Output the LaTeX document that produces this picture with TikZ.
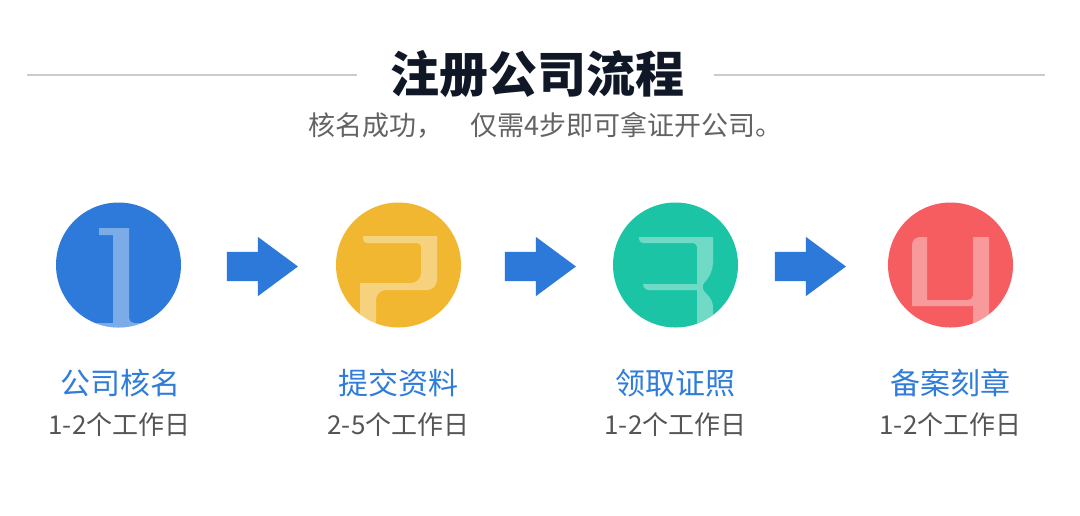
\documentclass[tikz,border=0pt]{standalone}
\usepackage{fontspec}
\setmainfont{Noto Sans CJK SC}
\usetikzlibrary{shapes.arrows}
\definecolor{stepblue}{HTML}{2D7ADA}
\definecolor{stepyellow}{HTML}{F2B731}
\definecolor{stepgreen}{HTML}{1BC4A5}
\definecolor{stepred}{HTML}{F55D60}
\definecolor{arrowblue}{HTML}{2D79D9}
\definecolor{nameblue}{HTML}{2F7CDB}
\definecolor{daysgray}{HTML}{555555}
\definecolor{subgray}{HTML}{636363}
\definecolor{titlenavy}{HTML}{101828}
\definecolor{rulegray}{HTML}{CCCCCC}

\begin{document}
\begin{tikzpicture}[x=1pt,y=-1pt]
    \tikzstyle{stepcircle}=[circle, minimum size=125pt, inner sep=0pt]
    \tikzstyle{digitfill}=[fill=white, fill opacity=0.38]
    \tikzstyle{steparrow}=[single arrow, fill=arrowblue, minimum height=71pt, inner xsep=0pt, inner ysep=14.5pt,
                           single arrow head extend=15pt, single arrow tip angle=73]
    \tikzstyle{stepname}=[font=\fontsize{30}{31}\selectfont, text=nameblue, inner sep=0pt]
    \tikzstyle{stepdays}=[font=\fontsize{26}{27}\selectfont, text=daysgray, inner sep=0pt]
    \tikzstyle{titlerule}=[draw=rulegray, line width=1.5pt]

    \fill[white] (0,0) rectangle (1080,515);
    \useasboundingbox (0,0) rectangle (1080,515);

    \node[font=\fontsize{49}{51}\selectfont\bfseries, text=titlenavy, inner sep=0pt] (title) at (537.5,74) {注册公司流程};
    \node[font=\fontsize{27}{28}\selectfont, text=subgray, inner sep=0pt] (subtitle) at (545.5,125) {核名成功，　仅需4步即可拿证开公司。};
    \coordinate (ruleLa) at (27,75);
    \coordinate (ruleLb) at (357,75);
    \coordinate (ruleRa) at (714,75);
    \coordinate (ruleRb) at (1045,75);
    \draw[titlerule] (ruleLa) -- (ruleLb);
    \draw[titlerule] (ruleRa) -- (ruleRb);

    \node[stepcircle, fill=stepblue] (c1) at (118.5,265) {};
    \node[stepcircle, fill=stepyellow] (c2) at (398.5,265) {};
    \node[stepcircle, fill=stepgreen] (c3) at (675.5,265) {};
    \node[stepcircle, fill=stepred] (c4) at (950.5,265) {};

    \begin{scope}[shift={(c1.center)}]
        \clip (0,0) circle[radius=62.5pt];
        \fill[digitfill] (-19.5,-37) -- (10.5,-37) [rounded corners=5pt] -- (10.5,58) [sharp corners] -- (30,58)
            -- (30,72) -- (-30,72) -- (-30,58) -- (-5.5,58) -- (-5.5,-30) -- (-19.5,-30) -- cycle;
    \end{scope}
    \begin{scope}[shift={(c2.center)}]
        \clip (0,0) circle[radius=62.5pt];
        \fill[digitfill] (-35.5,-29) -- (38.5,-29) [rounded corners=10pt] -- (38.5,25) -- (-22.5,25)
            [rounded corners=4pt] -- (-22.5,75) [sharp corners] -- (-38.5,75) -- (-38.5,18)
            [rounded corners=10pt] -- (22.5,18) [rounded corners=4pt] -- (22.5,-22) -- (-35.5,-22)
            [sharp corners] -- cycle;
    \end{scope}
    \begin{scope}[shift={(c3.center)}]
        \clip (0,0) circle[radius=62.5pt];
        \fill[digitfill] (-36.5,-28) -- (37.5,-28) [rounded corners=10pt] -- (37.5,8) [rounded corners=6pt]
            -- (25,22) -- (37.5,36) -- (37.5,75) [sharp corners] -- (21.5,75) -- (21.5,25)
            [rounded corners=6pt] -- (-32.5,25) [sharp corners] -- (-32.5,19) -- (21.5,19)
            [rounded corners=4pt] -- (21.5,-22) -- (-36.5,-22) [sharp corners] -- cycle;
    \end{scope}
    \begin{scope}[shift={(c4.center)}]
        \clip (0,0) circle[radius=62.5pt];
        \fill[digitfill] (-23.5,-28) -- (-23.5,35) [rounded corners=5pt] -- (22.5,35) [sharp corners]
            -- (22.5,-28) -- (38.5,-28) -- (38.5,75) -- (22.5,75) -- (22.5,41) -- (-38.5,41)
            [rounded corners=8pt] -- (-38.5,-28) [sharp corners] -- cycle;
    \end{scope}

    \node[steparrow] (a12) at (252.5,266.5) {};
    \node[steparrow] (a23) at (530.5,266.5) {};
    \node[steparrow] (a34) at (800.5,266.5) {};

    \node[stepname] (n1) at (120,383) {公司核名};
    \node[stepname] (n2) at (398.5,383) {提交资料};
    \node[stepname] (n3) at (675.5,383) {领取证照};
    \node[stepname] (n4) at (950.5,383) {备案刻章};

    \node[stepdays] (d1) at (119.5,425) {1-2个工作日};
    \node[stepdays] (d2) at (398.5,425) {2-5个工作日};
    \node[stepdays] (d3) at (675.5,425) {1-2个工作日};
    \node[stepdays] (d4) at (950.5,425) {1-2个工作日};
\end{tikzpicture}
\end{document}
